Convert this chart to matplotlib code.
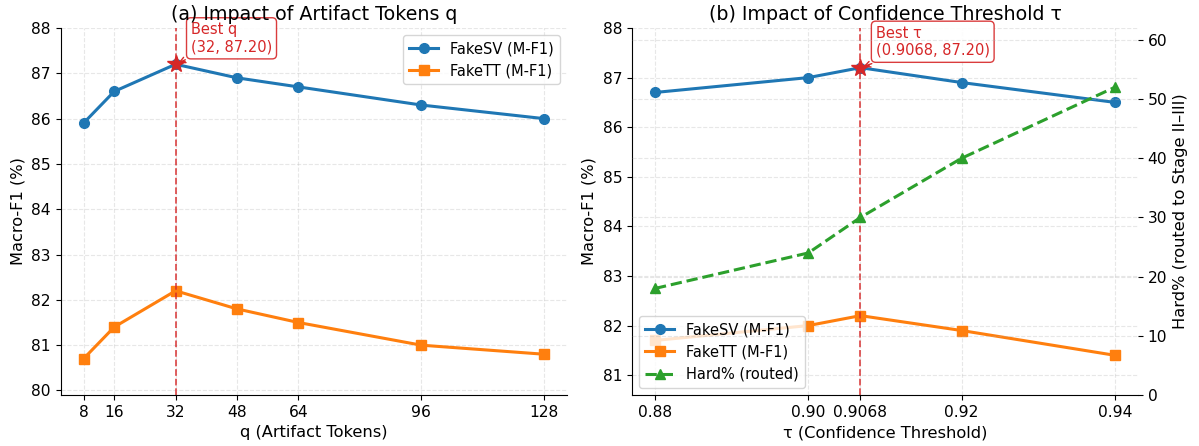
import matplotlib.pyplot as plt

# (a) artifact tokens q
q_vals = [8, 16, 32, 48, 64, 96, 128]
q_fakesv = [85.9, 86.6, 87.2, 86.9, 86.7, 86.3, 86.0]
q_fakett = [80.7, 81.4, 82.2, 81.8, 81.5, 81.0, 80.8]
best_q = 32
best_q_f1 = 87.20

# (b) confidence threshold tau
tau_vals = [0.88, 0.90, 0.9068, 0.92, 0.94]
tau_labels = ['0.88', '0.90', '0.9068', '0.92', '0.94']
tau_fakesv = [86.7, 87.0, 87.2, 86.9, 86.5]
tau_fakett = [81.7, 82.0, 82.2, 81.9, 81.4]
tau_hard = [18, 24, 30, 40, 52]
best_tau = 0.9068
best_tau_f1 = 87.20

blue = '#1f77b4'
orange = '#ff7f0e'
green = '#2ca02c'
red = '#d62728'

plt.rcParams['font.size'] = 11
plt.rcParams['xtick.labelsize'] = 11.2
plt.rcParams['ytick.labelsize'] = 11.2
plt.rcParams['axes.labelsize'] = 11.7

fig = plt.figure(figsize=(11.99, 4.46), dpi=100)
ax1 = fig.add_axes([60.5 / 1199, 1 - 395 / 446, 506.5 / 1199, 367 / 446])
ax2 = fig.add_axes([632 / 1199, 1 - 395 / 446, 506 / 1199, 367 / 446])


def mark_best(ax, x, y, label):
    ax.axvline(x, color=red, linestyle='--', linewidth=1.3, alpha=0.8)
    ax.plot([x], [y], marker='*', color=red, markersize=13, zorder=5)
    ax.annotate(label, xy=(x, y), xytext=(11, 7), textcoords='offset points',
                ha='left', va='bottom', color=red, fontsize=10.5,
                bbox=dict(boxstyle='round,pad=0.3', fc='white', ec=red, alpha=0.9),
                arrowprops=dict(arrowstyle='->', color=red, lw=1))


# left panel
ax1.plot(q_vals, q_fakesv, marker='o', color=blue, linewidth=2.2, markersize=7, label='FakeSV (M-F1)')
ax1.plot(q_vals, q_fakett, marker='s', color=orange, linewidth=2.2, markersize=7, label='FakeTT (M-F1)')
mark_best(ax1, best_q, best_q_f1, 'Best q\n(%d, %.2f)' % (best_q, best_q_f1))
ax1.set_xticks(q_vals)
ax1.set_ylim(min(q_fakett) - 0.8, 88)
ax1.set_xlabel('q (Artifact Tokens)')
ax1.set_ylabel('Macro-F1 (%)')
ax1.set_title('(a) Impact of Artifact Tokens q', fontsize=13.7)
ax1.grid(True, linestyle='--', alpha=0.3)
ax1.legend(loc='upper right', fontsize=10.5)
ax1.spines['top'].set_visible(False)
ax1.spines['right'].set_visible(False)

# right panel
l1, = ax2.plot(tau_vals, tau_fakesv, marker='o', color=blue, linewidth=2.2, markersize=7, label='FakeSV (M-F1)')
l2, = ax2.plot(tau_vals, tau_fakett, marker='s', color=orange, linewidth=2.2, markersize=7, label='FakeTT (M-F1)')
mark_best(ax2, best_tau, best_tau_f1, 'Best \u03c4\n(%.4f, %.2f)' % (best_tau, best_tau_f1))
ax2.set_xticks(tau_vals)
ax2.set_xticklabels(tau_labels)
ax2.set_ylim(min(tau_fakett) - 0.8, 88)
ax2.set_xlabel('\u03c4 (Confidence Threshold)')
ax2.set_ylabel('Macro-F1 (%)')
ax2.set_title('(b) Impact of Confidence Threshold \u03c4', fontsize=13.7)
ax2.grid(True, linestyle='--', alpha=0.3)
ax2.spines['top'].set_visible(False)
ax2.spines['right'].set_visible(False)

ax2b = ax2.twinx()
l3, = ax2b.plot(tau_vals, tau_hard, marker='^', color=green, linestyle='--', linewidth=2.2,
                markersize=7, label='Hard% (routed)')
ax2b.set_ylim(0, 62)
ax2b.set_ylabel('Hard% (routed to Stage II\u2013III)')
ax2b.grid(True, linestyle='--', alpha=0.3)
for s in ax2b.spines.values():
    s.set_visible(False)

ax2.legend([l1, l2, l3], [l1.get_label(), l2.get_label(), l3.get_label()], loc='lower left', fontsize=10.5)

plt.savefig('out.png', dpi=100)
